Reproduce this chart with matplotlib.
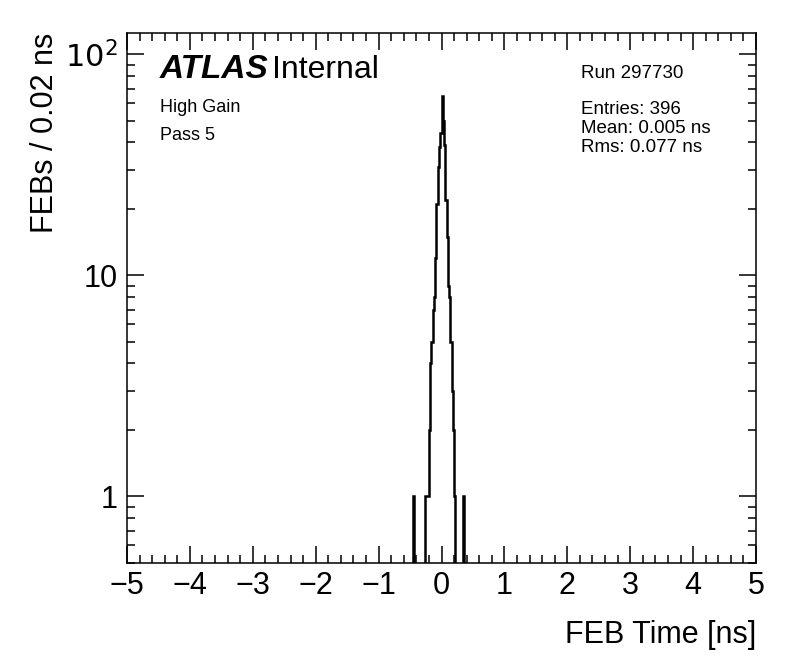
import numpy as np
import matplotlib
matplotlib.use('Agg')
import matplotlib.pyplot as plt
from matplotlib.ticker import MultipleLocator, LogLocator, FixedLocator, FixedFormatter

plt.rcParams['font.family'] = ['Liberation Sans', 'DejaVu Sans']

# histogram: left bin edges (ns) of non-empty bins, bin width 0.02 ns
bin_lo = [-0.46,
          -0.26, -0.24, -0.22, -0.20, -0.18, -0.16, -0.14, -0.12, -0.10, -0.08,
          -0.06, -0.04, -0.02, 0.00, 0.02, 0.04, 0.06, 0.08, 0.10, 0.12,
          0.14, 0.16, 0.18, 0.20,
          0.34]
counts = [1,
          1, 1, 1, 2, 4, 5, 7, 8, 12, 21,
          31, 38, 44, 65, 50, 39, 22, 15, 9, 8,
          5, 3, 2, 1,
          1]
x_min, x_max, bin_w = -5.0, 5.0, 0.02

run_label = "Run 297730"
stats = ["Entries: 396", "Mean: 0.005 ns", "Rms: 0.077 ns"]

W, H = 796, 672
fig = plt.figure(figsize=(W/100, H/100), dpi=100)
L, R, T, B = 127, 756, 33, 563
ax = fig.add_axes([L/W, 1 - B/H, (R - L)/W, (B - T)/H])

nb = int(round((x_max - x_min)/bin_w))
edges = np.linspace(x_min, x_max, nb + 1)
vals = np.full(nb, 1e-3)
idx = np.round((np.array(bin_lo) - x_min)/bin_w).astype(int)
vals[idx] = counts
ax.stairs(vals, edges, color='black', lw=1.8, baseline=None)

ax.set_yscale('log')
ax.set_xlim(x_min, x_max)
ax.set_ylim(0.5, 125)

ax.xaxis.set_major_locator(MultipleLocator(1))
ax.xaxis.set_minor_locator(MultipleLocator(0.2))
ax.yaxis.set_major_locator(FixedLocator([1, 10, 100]))
ax.yaxis.set_major_formatter(FixedFormatter(['1', '10', '$10^{2}$']))
ax.yaxis.set_minor_locator(LogLocator(base=10, subs=np.arange(2, 10)))
ax.yaxis.set_minor_formatter(plt.NullFormatter())

ax.tick_params(which='both', direction='in', top=True, right=True, width=1.1, labelsize=22)
ax.tick_params(which='major', length=12)
ax.tick_params(which='minor', length=6)
ax.tick_params(axis='x', pad=6)
ax.tick_params(axis='y', pad=7)
for s in ax.spines.values():
    s.set_linewidth(1.1)

fig.text(R/W, 1 - 635/H, "FEB Time [ns]", ha='right', va='center', fontsize=22)
fig.text(45/W, 1 - T/H, "FEBs / 0.02 ns", ha='center', va='top', rotation=90, fontsize=22)

fig.text(160/W, 1 - 70/H, "ATLAS", ha='left', va='center', fontsize=24,
         fontweight='bold', fontstyle='italic')
fig.text(272/W, 1 - 70/H, "Internal", ha='left', va='center', fontsize=23)
fig.text(160/W, 1 - 107/H, "High Gain", ha='left', va='center', fontsize=13)
fig.text(160/W, 1 - 135/H, "Pass 5", ha='left', va='center', fontsize=13)

fig.text(581/W, 1 - 74/H, run_label, ha='left', va='center', fontsize=13.5)
for i, s in enumerate(stats):
    fig.text(581/W, 1 - (110 + 18.5*i)/H, s, ha='left', va='center', fontsize=13.5)

fig.savefig('out.png', dpi=100)
